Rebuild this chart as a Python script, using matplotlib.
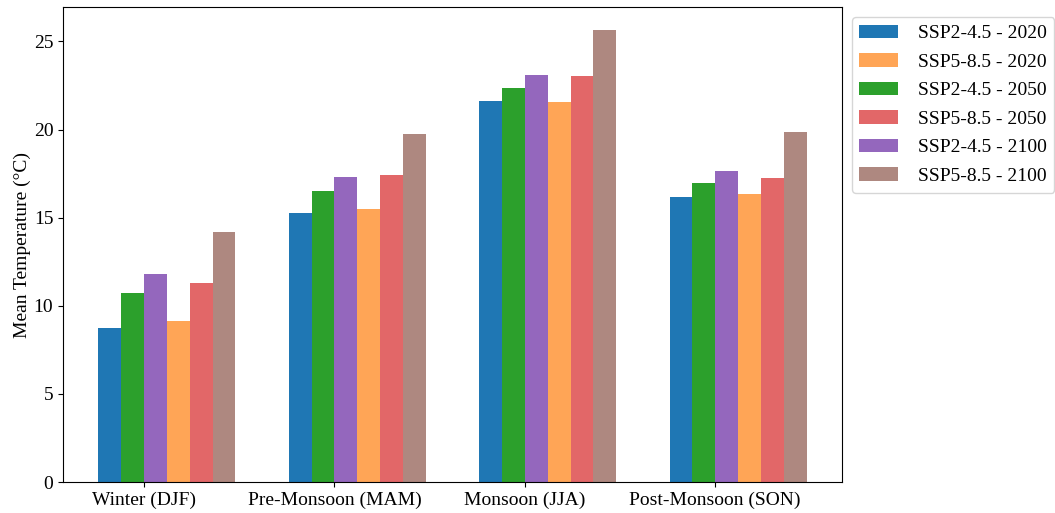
import numpy as np
import matplotlib
matplotlib.use("Agg")
import matplotlib.pyplot as plt

plt.rcParams['font.family'] = ['Liberation Serif', 'DejaVu Serif']

seasons = ["Winter (DJF)", "Pre-Monsoon (MAM)", "Monsoon (JJA)", "Post-Monsoon (SON)"]

ssp245_2020 = [8.75, 15.28, 21.63, 16.18]
ssp245_2050 = [10.70, 16.52, 22.37, 16.96]
ssp245_2100 = [11.78, 17.28, 23.10, 17.64]
ssp585_2020 = [9.13, 15.47, 21.55, 16.37]
ssp585_2050 = [11.30, 17.40, 23.03, 17.26]
ssp585_2100 = [14.16, 19.74, 25.66, 19.85]

x = np.arange(len(seasons))
w = 0.12

fig = plt.figure(figsize=(10.55, 5.13), dpi=100)
ax = fig.add_axes([0.0597, 0.0604, 0.7384, 0.9256])

b1 = ax.bar(x - 1.5 * w, ssp245_2020, w, color='tab:blue', label='SSP2-4.5 - 2020')
b3 = ax.bar(x - 0.5 * w, ssp245_2050, w, color='tab:green', label='SSP2-4.5 - 2050')
b5 = ax.bar(x + 0.5 * w, ssp245_2100, w, color='tab:purple', label='SSP2-4.5 - 2100')
b2 = ax.bar(x + 1.5 * w, ssp585_2020, w, color='tab:orange', alpha=0.7, label='SSP5-8.5 - 2020')
b4 = ax.bar(x + 2.5 * w, ssp585_2050, w, color='tab:red', alpha=0.7, label='SSP5-8.5 - 2050')
b6 = ax.bar(x + 3.5 * w, ssp585_2100, w, color='tab:brown', alpha=0.7, label='SSP5-8.5 - 2100')

ax.set_xticks(x)
ax.set_xticklabels(seasons, fontsize=14)
ax.tick_params(axis='y', labelsize=14)
ax.set_ylabel('Mean Temperature (°C)', fontsize=14, labelpad=2)
ax.set_yticks([0, 5, 10, 15, 20, 25])

ax.legend(handles=[b1, b2, b3, b4, b5, b6], loc='upper left',
          bbox_to_anchor=(1.0, 1.0), fontsize=14, labelspacing=0.56,
          handletextpad=1.0)

fig.savefig('out.png', dpi=100)
